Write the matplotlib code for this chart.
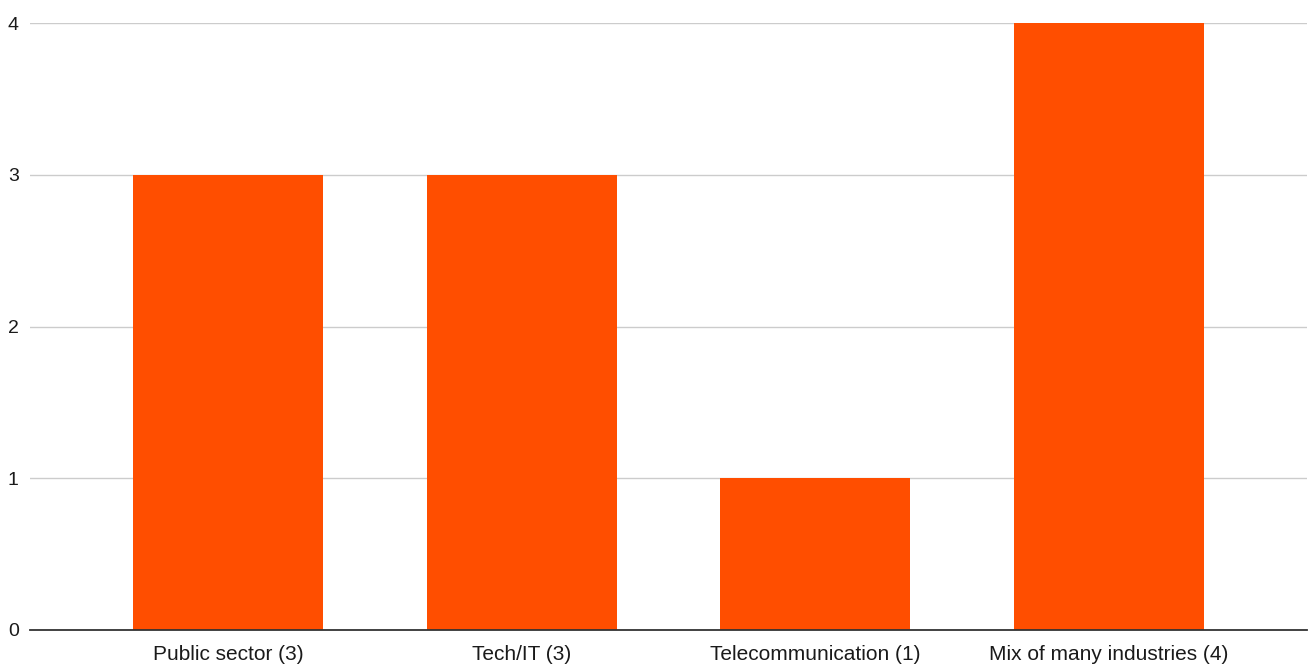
import matplotlib.pyplot as plt

categories = ['Public sector (3)', 'Tech/IT (3)', 'Telecommunication (1)', 'Mix of many industries (4)']
counts = [3, 3, 1, 4]
yticks = [0, 1, 2, 3, 4]

plt.rcParams['font.family'] = ['Liberation Sans', 'DejaVu Sans']

fig = plt.figure(figsize=(13.12, 6.66), dpi=100)
ax = fig.add_axes([30 / 1312, 1 - 630 / 666, 1277 / 1312, 607 / 666])

x = range(len(categories))
ax.bar(x, counts, width=0.647, color='#ff4e00', zorder=3)

ax.set_xlim(-0.675, len(categories) - 1 + 0.675)
ax.set_ylim(0, 4)
ax.set_yticks(yticks)
ax.set_xticks(list(x))
ax.set_xticklabels(categories)

ax.grid(axis='y', color='#cccccc', linewidth=1, zorder=0)
ax.set_axisbelow(True)
for side in ['top', 'right', 'left']:
    ax.spines[side].set_visible(False)
ax.spines['bottom'].set_color('#333333')
ax.spines['bottom'].set_linewidth(1.3)
ax.spines['bottom'].set_zorder(4)
ax.tick_params(axis='both', length=0, colors='#1a1a1a')
ax.tick_params(axis='x', pad=11, labelsize=15)
ax.tick_params(axis='y', pad=16, labelsize=14)
for lbl in ax.get_yticklabels():
    lbl.set_horizontalalignment('left')

plt.savefig('out.png', dpi=100)
